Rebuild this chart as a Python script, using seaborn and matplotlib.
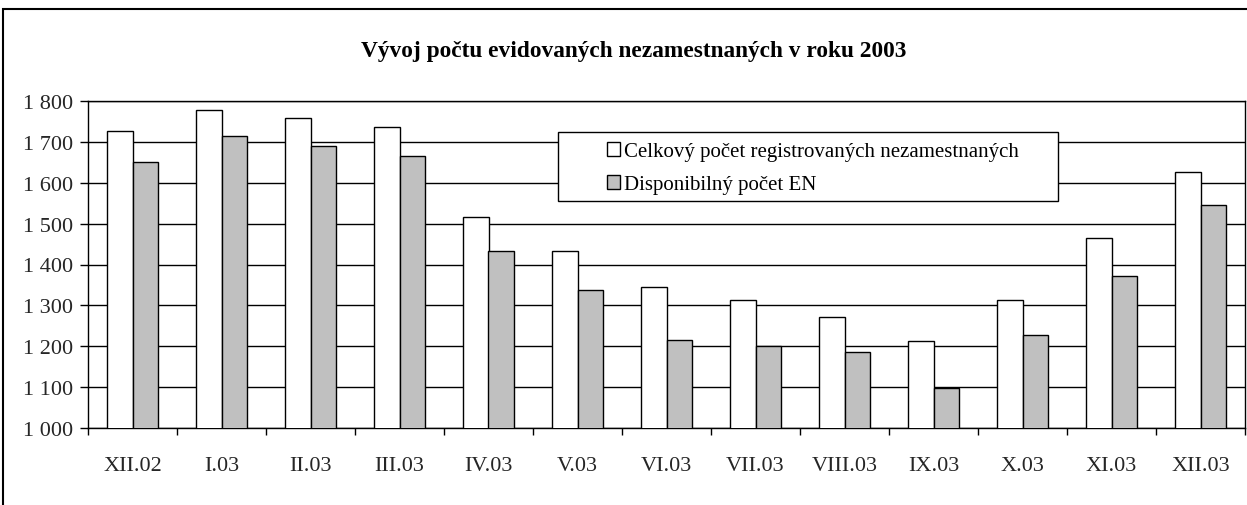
import numpy as np
import pandas as pd
import seaborn as sns
import matplotlib.pyplot as plt
from matplotlib.patches import Rectangle
from matplotlib.ticker import FuncFormatter

# data
mesiace = ["XII.02", "I.03", "II.03", "III.03", "IV.03", "V.03", "VI.03",
           "VII.03", "VIII.03", "IX.03", "X.03", "XI.03", "XII.03"]
celkovy = [1726, 1778, 1758, 1736, 1517, 1432, 1346, 1314, 1272, 1213, 1313, 1464, 1627]
disponibilny = [1650, 1714, 1690, 1665, 1433, 1338, 1215, 1200, 1185, 1098, 1228, 1372, 1546]
serie = ["Celkový počet registrovaných nezamestnaných", "Disponibilný počet EN"]

df = pd.DataFrame({
    "Mesiac": mesiace * 2,
    "Pocet": celkovy + disponibilny,
    "Seria": [serie[0]] * len(mesiace) + [serie[1]] * len(mesiace),
})

sns.set_theme(style="white")
plt.rcParams['font.family'] = ['Liberation Serif', 'DejaVu Serif']
plt.rcParams['text.color'] = 'black'

W, H = 1247, 506
fig = plt.figure(figsize=(W / 100, H / 100), dpi=100)
ax = fig.add_axes([88 / W, 1 - 429 / H, (1245 - 88) / W, (429 - 102) / H])

sns.barplot(data=df, x="Mesiac", y="Pocet", hue="Seria",
            palette=["white", "#C0C0C0"], width=0.58, gap=0,
            edgecolor="black", linewidth=1, ax=ax, zorder=3)

ax.set_ylim(1000, 1800)
ax.set_yticks(np.arange(1000, 1801, 100))
ax.yaxis.set_major_formatter(FuncFormatter(lambda v, p: f"{int(v):,}".replace(",", " ")))
ax.yaxis.grid(True, color="black", linewidth=1)
ax.set_axisbelow(True)
ax.set_xlim(-0.5, len(mesiace) - 0.5)
ax.set_xticks(np.arange(-0.5, len(mesiace), 1), minor=True)
ax.tick_params(axis="x", which="major", length=0, pad=20, labelsize=16)
ax.tick_params(axis="x", which="minor", length=5, width=1, color="black", direction="out", bottom=True)
ax.tick_params(axis="y", length=6, width=1, color="black", direction="out", left=True, pad=5, labelsize=16)
ax.set_xlabel("")
ax.set_ylabel("")

for s in ax.spines.values():
    s.set_color("black")
    s.set_linewidth(1)

# ramček legendy zvlášť, aby mal široké okraje ako v Exceli
ax.add_patch(Rectangle((558 / W, 1 - 202 / H), 500 / W, 69 / H, transform=fig.transFigure,
                       facecolor="white", edgecolor="black", linewidth=1, zorder=4, clip_on=False))
leg = ax.legend(title=None, loc="upper left", bbox_to_anchor=(607 / W, 1 - 143 / H),
                bbox_transform=fig.transFigure, fontsize=15, frameon=False,
                borderaxespad=0, borderpad=0, handlelength=0.62, handleheight=0.62,
                handletextpad=0.2, labelspacing=0.68)
leg.set_zorder(5)

fig.text(634 / W, 1 - 51 / H, "Vývoj počtu evidovaných nezamestnaných v roku 2003",
         ha="center", va="center", fontsize=16.8, fontweight="bold")

# ramček okolo celého grafu
fig.patches.append(Rectangle((3 / W, -0.1), 1.1, 1.1 - 10 / H, transform=fig.transFigure,
                             fill=False, edgecolor="black", linewidth=1.5))

fig.savefig("out.png", dpi=100)
